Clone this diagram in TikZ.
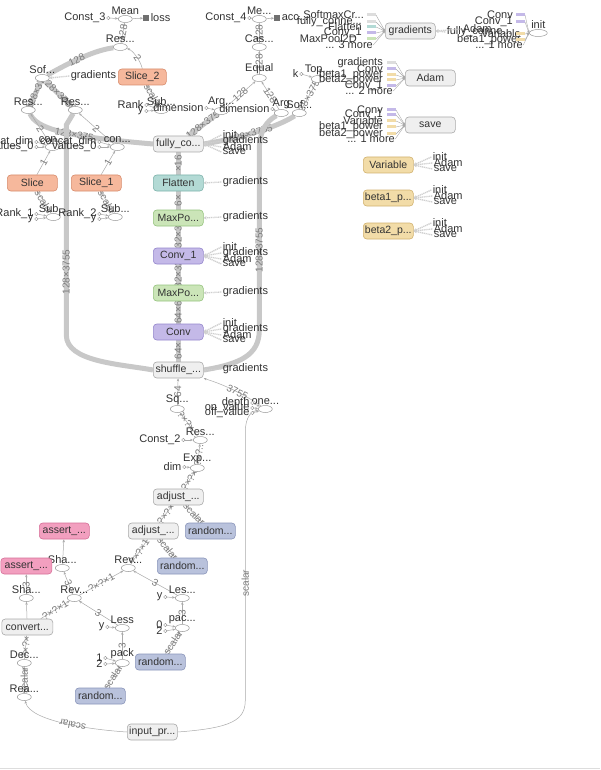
\documentclass[tikz,border=0pt]{standalone}
\usepackage{fontspec}
\setmainfont{Liberation Sans}
\usetikzlibrary{shapes.geometric,arrows.meta}
\pgfdeclarelayer{back}
\pgfdeclarelayer{bg}
\pgfsetlayers{back,bg,main}
\definecolor{txtc}{HTML}{333333}
\definecolor{elc}{HTML}{7A7A7A}
\definecolor{opc}{HTML}{999999}
\definecolor{thkc}{HTML}{C8C8C8}
\definecolor{thnc}{HTML}{AAAAAA}
\definecolor{stubc}{HTML}{CFCFCF}
\definecolor{boxf}{HTML}{EFEFEF}
\definecolor{boxd}{HTML}{AAAAAA}
\definecolor{orf}{HTML}{F6B89C}\definecolor{ord}{HTML}{D88C6C}
\definecolor{tealf}{HTML}{B3DAD5}\definecolor{teald}{HTML}{7DB3AB}
\definecolor{greenf}{HTML}{CBE5B8}\definecolor{greend}{HTML}{95C37E}
\definecolor{purpf}{HTML}{C4B9E8}\definecolor{purpd}{HTML}{9486CC}
\definecolor{tanf}{HTML}{F2DCA8}\definecolor{tand}{HTML}{D2B26F}
\definecolor{pinkf}{HTML}{F29FBF}\definecolor{pinkd}{HTML}{D66F98}
\definecolor{bluef}{HTML}{B9C2DC}\definecolor{blued}{HTML}{8A95BA}
\definecolor{icoc}{HTML}{707070}
\definecolor{barg}{HTML}{DDDDDD}
\tikzset{
 lbl/.style={font=\fontsize{11}{11}\selectfont, text=txtc, inner sep=0.3pt},
 op/.style={ellipse, draw=opc, fill=white, line width=0.5pt, minimum width=14pt, minimum height=7pt, inner sep=0pt},
 opl/.style={op, label={[lbl]above:#1}},
 cst/.style={circle, draw=opc, fill=white, line width=0.4pt, minimum size=3.4pt, inner sep=0pt},
 cl/.style={cst, label={[lbl, label distance=0.5pt]left:#1}},
 box/.style={rectangle, rounded corners=3.5pt, line width=0.6pt, minimum width=50pt, minimum height=16pt, inner sep=1pt, font=\fontsize{10.5}{10.5}\selectfont, text=txtc},
 gbox/.style={box, fill=boxf, draw=boxd},
 obox/.style={box, fill=orf, draw=ord},
 tbox/.style={box, fill=tealf, draw=teald},
 grbox/.style={box, fill=greenf, draw=greend},
 pbox/.style={box, fill=purpf, draw=purpd},
 tnbox/.style={box, fill=tanf, draw=tand},
 pkbox/.style={box, fill=pinkf, draw=pinkd},
 bbox/.style={box, fill=bluef, draw=blued},
 sico/.style={rectangle, fill=icoc, minimum size=6pt, inner sep=0pt},
 bar/.style={rectangle, minimum width=9pt, minimum height=3pt, inner sep=0pt},
 thk/.style={draw=thkc, line width=5pt},
 thn/.style={draw=thnc, line width=0.5pt, -{Stealth[length=3pt,width=2.4pt]}},
 inl/.style={draw=thnc, line width=0.4pt, -{Stealth[length=2.5pt,width=2pt]}},
 stub/.style={draw=stubc, line width=1.3pt, dash pattern=on 1.2pt off 0.7pt, -{Stealth[length=3pt,width=3.5pt]}},
 elab/.style={font=\fontsize{10}{10}\selectfont, text=elc, inner sep=0.5pt, sloped},
}
\newcommand{\myin}[7]{%
 \node[lbl,anchor=east] (#1t) at (#2,#3) {#4};
 \node[bar,fill=#6] (#1b) at (#5,#3) {};
 \draw[inl] (#1b.east) -- (#7.west);}
\newcommand{\mymore}[5]{%
 \node[lbl,anchor=east] (#1t) at (#2,#3) {#4};
 \draw[inl] (#1t.east) -- (#5.west);}
\newcommand{\mystub}[5]{%
 \node[lbl,anchor=west] (#1) at (#2,#3) {#4};
 \draw[stub] ([xshift=-1pt]#1.west) -- (#5.east);}
\begin{document}
\begin{tikzpicture}[x=1pt,y=-1pt]
\begin{pgfonlayer}{back}
\fill[white] (0,0) rectangle (600,770);
\draw[draw=barg, line width=0.6pt] (0,768) -- (600,768);
\end{pgfonlayer}
\useasboundingbox (0,0) rectangle (600,770);

% ---------- top left ----------
\node[opl=Mean] (mean) at (125,19) {};
\node[cl=Const\_3] (c3) at (108,18) {};
\node[sico] (lossi) at (146,18) {};
\node[lbl,anchor=west] (losst) at (150,18) {loss};
\node[opl=Res...] (res0) at (120,47) {};
\node[opl=Sof...] (sof) at (42,78) {};
\node[obox, minimum width=48pt] (slice2) at (142,77) {Slice\_2};
\node[opl=Sub...] (sub0) at (161,110) {};
\node[cl=Rank] (rk0) at (146,105) {};
\node[cl=y] (y0) at (146,111) {};
\node[cl=dimension] (dm1) at (206,108) {};
\node[opl=Arg...] (arg) at (221,111) {};
\node[cl=dimension] (dm2) at (272,109) {};
\node[opl=Arg] (argso) at (281,113) {};
\node[opl=Sof...] (sof2) at (299,113) {};
\node[cl=Const\_4] (c4) at (249,18) {};
\node[opl=Me...] (me) at (259,19) {};
\node[sico] (acci) at (277,18) {};
\node[lbl,anchor=west] (acct) at (281,18) {acc...};
\node[opl=Cas...] (cas) at (259,47) {};
\node[opl=Equal] (equal) at (259,78) {};
\node[opl=Top...] (top) at (318,79) {};
\node[cl=k] (kc) at (301,74) {};

\node[opl=Res...] (res1) at (28,110) {};
\node[opl=Res...] (res2) at (75,110) {};
\node[opl=con...] (con1) at (52,147) {};
\node[cl=concat\_dim] (cd1) at (36,142) {};
\node[cl=values\_0] (cv1) at (36,147) {};
\node[opl=con...] (con2) at (117,147) {};
\node[cl=concat\_dim] (cd2) at (99,142) {};
\node[cl=values\_0] (cv2) at (99,147) {};
\node[obox] (slice) at (32,183) {Slice};
\node[obox] (slice1) at (96,183) {Slice\_1};
\node[opl=Sub...] (sub1) at (53,217) {};
\node[cl=Rank\_1] (rk1) at (36,214) {};
\node[cl=y] (y1) at (36,219) {};
\node[opl=Sub...] (sub2) at (115,217) {};
\node[cl=Rank\_2] (rk2) at (99,214) {};
\node[cl=y] (y2) at (99,219) {};

% ---------- main chain ----------
\node[gbox] (fc) at (178,144) {fully\_co...};
\node[tbox] (flat) at (178,183) {Flatten};
\node[grbox] (mp1) at (178,218) {MaxPo...};
\node[pbox] (conv1) at (178,256) {Conv\_1};
\node[grbox] (mp2) at (178,293) {MaxPo...};
\node[pbox] (conv) at (178,332) {Conv};
\node[gbox] (shuf) at (178,370) {shuffle\_...};

% ---------- right top ----------
\node[gbox] (grad) at (410,31) {gradients};
\node[op, minimum width=18pt, label={[lbl]above:init}] (init) at (538,33) {};
\node[gbox] (adam) at (430,78) {Adam};
\node[gbox] (save) at (430,125) {save};
\node[tnbox] (var) at (388,165) {Variable};
\node[tnbox] (b1) at (388,198) {beta1\_p...};
\node[tnbox] (b2) at (388,231) {beta2\_p...};

% ---------- lower part ----------
\node[opl=Sq...] (sq) at (177,409) {};
\node[opl=one...] (one) at (265,409) {};
\node[cl=depth] (dpc) at (252,403) {};
\node[cl=on\_value] (onc) at (252,408) {};
\node[cl=off\_value] (offc) at (252,413) {};
\node[opl=Res...] (res3) at (200,440) {};
\node[cl=Const\_2] (k2) at (183,440) {};
\node[opl=Exp...] (exp) at (197,468) {};
\node[cl=dim] (dimc) at (184,467) {};
\node[gbox] (adj1) at (178,497) {adjust\_...};
\node[gbox] (adj2) at (153,531) {adjust\_...};
\node[bbox] (rnd1) at (210,531) {random...};
\node[pkbox] (as1) at (64,531) {assert\_...};
\node[opl=Sha...] (sha1) at (62,568) {};
\node[pkbox, minimum width=51pt] (as2) at (26,566) {assert\_...};
\node[opl=Sha...] (sha2) at (26,598) {};
\node[opl=Rev...] (rev) at (128,568) {};
\node[bbox] (rnd2) at (182,566) {random...};
\node[opl=Rev...] (rev2) at (74,598) {};
\node[opl=Les...] (les) at (182,598) {};
\node[cl=y] (yc1) at (165,597) {};
\node[opl=Less] (less) at (122,628) {};
\node[cl=y] (yc2) at (107,627) {};
\node[opl=pac...] (pac) at (182,628) {};
\node[cl=0] (z0) at (165,625) {};
\node[cl=2] (z2) at (165,631) {};
\node[gbox, minimum width=51pt] (cvt) at (27,627) {convert...};
\node[opl=Dec...] (dec) at (24,663) {};
\node[opl=pack] (pack) at (122,663) {};
\node[cl=1] (p1) at (105,658) {};
\node[cl=2] (p2) at (105,664) {};
\node[bbox] (rnd3) at (160,662) {random...};
\node[opl=Rea...] (rea) at (24,697) {};
\node[bbox] (rnd4) at (100,696) {random...};
\node[gbox] (inp) at (152,732) {input\_pr...};

% ---------- stubs ----------
\mystub{fsa}{222}{135}{init}{fc}
\mystub{fsb}{222}{141}{gradients}{fc}
\mystub{fsc}{222}{147}{Adam}{fc}
\mystub{fsd}{222}{152}{save}{fc}
\mystub{c1a}{222}{247}{init}{conv1}
\mystub{c1b}{222}{253}{gradients}{conv1}
\mystub{c1c}{222}{259}{Adam}{conv1}
\mystub{c1d}{222}{264}{save}{conv1}
\mystub{c0a}{222}{323}{init}{conv}
\mystub{c0b}{222}{329}{gradients}{conv}
\mystub{c0c}{222}{335}{Adam}{conv}
\mystub{c0d}{222}{340}{save}{conv}
\mystub{flg}{222}{182}{gradients}{flat}
\mystub{m1g}{222}{217}{gradients}{mp1}
\mystub{m2g}{222}{292}{gradients}{mp2}
\mystub{shg}{222}{369}{gradients}{shuf}
\mystub{sfg}{70}{76}{gradients}{sof}
\mystub{va}{432}{157}{init}{var}
\mystub{vb}{433}{163}{Adam}{var}
\mystub{vc}{433}{169}{save}{var}
\mystub{b1a}{432}{190}{init}{b1}
\mystub{b1b}{433}{196}{Adam}{b1}
\mystub{b1c}{433}{202}{save}{b1}
\mystub{b2a}{432}{223}{init}{b2}
\mystub{b2b}{433}{229}{Adam}{b2}
\mystub{b2c}{433}{235}{save}{b2}
\mystub{gout1}{446}{32}{fully\_conne...}{grad}
\mystub{gout2}{462}{29}{Adam}{grad}

% ---------- inputs to right-top boxes ----------
\myin{ga}{364}{15}{SoftmaxCr...}{371}{barg}{grad}
\myin{gb}{362}{22}{fully\_conne...}{371}{barg}{grad}
\myin{gc}{362}{27}{Flatten}{371}{tealf}{grad}
\myin{gd}{362}{33}{Conv\_1}{371}{purpf}{grad}
\myin{ge}{357}{39}{MaxPool2D}{371}{greenf}{grad}
\mymore{gf}{373}{45}{... 3 more}{grad}
\myin{ia}{513}{15}{Conv}{520}{purpf}{init}
\myin{ib}{513}{22}{Conv\_1}{520}{purpf}{init}
\myin{ic}{521}{34}{Variable}{520}{tanf}{init}
\myin{id}{521}{40}{beta1\_power}{520}{tanf}{init}
\mymore{ie}{523}{45}{... 1 more}{init}
\myin{aa}{383}{63}{gradients}{391}{barg}{adam}
\myin{ab}{383}{69}{Conv}{391}{purpf}{adam}
\myin{ac}{383}{75}{beta1\_power}{391}{tanf}{adam}
\myin{ad}{383}{80}{beta2\_power}{391}{tanf}{adam}
\myin{ae}{383}{86}{Conv\_1}{391}{purpf}{adam}
\mymore{af}{393}{91}{... 2 more}{adam}
\myin{sa}{383}{110}{Conv}{391}{purpf}{save}
\myin{sb}{383}{115}{Conv\_1}{391}{purpf}{save}
\myin{sc}{383}{121}{Variable}{391}{tanf}{save}
\myin{sd}{383}{127}{beta1\_power}{391}{tanf}{save}
\myin{se}{383}{134}{beta2\_power}{391}{tanf}{save}
\mymore{sf}{395}{139}{... 1 more}{save}

% ---------- edges ----------
\begin{pgfonlayer}{bg}
% thick
\draw[thk] (sof) .. controls (70,62) and (95,50) .. node[elab, pos=0.42] {128} (res0);
\draw[thk] (sof) -- node[elab] {128×37} (res1);
\draw[thk] (sof) -- node[elab] {128×3755} (res2);
\draw[thk] (res1) .. controls (36,128) and (60,136) .. node[elab, pos=0.62] {128×375} (fc.west);
\draw[thk] (res2) -- (66,125) -- (66,335) .. controls (66,362) and (120,364) .. (shuf.west);
\node[elab, rotate=90, sloped=false] (lb1) at (66,272) {128×3755};
\draw[thk] ([xshift=10pt]fc.north) -- node[elab] {128×375} (arg);
\draw[thk] (fc.east) .. controls (240,138) and (275,128) .. node[elab, pos=0.45] {128×3755} (sof2);
\draw[thk] (shuf.east) .. controls (240,364) and (259,355) .. (259,330) -- (259,150) .. controls (259,125) and (272,118) .. (argso);
\node[elab, rotate=90, sloped=false] (lb2) at (259,250) {128×3755};
\draw[thk] (shuf) -- node[elab] {64×} (conv);
\draw[thk] (conv) -- node[elab] {64×6} (mp2);
\draw[thk] (mp2) -- node[elab] {32×32} (conv1);
\draw[thk] (conv1) -- node[elab] {32×3} (mp1);
\draw[thk] (mp1) -- node[elab] {6×} (flat);
\draw[thk] (flat) -- node[elab] {×16} (fc);
% thin top
\draw[thn] (c3) -- (mean);
\draw[thn] (mean) -- (lossi);
\draw[thn] (res0) -- node[elab] {128} (mean);
\draw[thn] (slice2.north) .. controls (140,60) and (132,50) .. node[elab, pos=0.4] {2} (res0);
\draw[thn] (sub0) -- node[elab] {scalar} (slice2);
\draw[thn] (rk0) -- (sub0);
\draw[thn] (y0) -- (sub0);
\draw[thn] (dm1) -- (arg);
\draw[thn] (dm2) -- (argso);
\draw[thn] (arg) -- node[elab] {128} (equal);
\draw[thn] (argso) -- node[elab] {128} (equal);
\draw[thn] (equal) -- node[elab] {128} (cas);
\draw[thn] (cas) -- node[elab] {128} (me);
\draw[thn] (c4) -- (me);
\draw[thn] (me) -- (acci);
\draw[thn] (sof2) -- node[elab] {128×3755} (top);
\draw[thn] (kc) -- (top);
\draw[thn] (con1) -- node[elab] {2} (res1);
\draw[thn] (con2) -- node[elab] {2} (res2);
\draw[thn] (cd1) -- (con1);
\draw[thn] (cv1) -- (con1);
\draw[thn] (cd2) -- (con2);
\draw[thn] (cv2) -- (con2);
\draw[thn] (slice) -- node[elab] {1} (con1);
\draw[thn] (slice1) -- node[elab] {1} (con2);
\draw[thn] (sub1) -- node[elab] {scalar} (slice);
\draw[thn] (sub2) -- node[elab] {scalar} (slice1);
\draw[thn] (rk1) -- (sub1);
\draw[thn] (y1) -- (sub1);
\draw[thn] (rk2) -- (sub2);
\draw[thn] (y2) -- (sub2);
% thin lower
\draw[thn] (sq) -- node[elab] {64} (shuf);
\draw[thn] (one) .. controls (245,395) and (225,385) .. node[elab, pos=0.45] {3755} (shuf.south east);
\draw[thn] (dpc) -- (one);
\draw[thn] (onc) -- (one);
\draw[thn] (offc) -- (one);
\draw[thn] (res3) -- node[elab] {?×?×...} (sq);
\draw[thn] (k2) -- (res3);
\draw[thn] (exp) -- node[elab] {?×?...} (res3);
\draw[thn] (dimc) -- (exp);
\draw[thn] (adj1) -- node[elab] {?×?×} (exp);
\draw[thn] (adj2) -- node[elab] {?×?×} (adj1);
\draw[thn] (rnd1) -- node[elab] {scalar} (adj1);
\draw[thn] (rev) -- node[elab] {?×?×1} (adj2);
\draw[thn] (rnd2) -- node[elab] {scalar} (adj2);
\draw[thn] (sha1) -- (as1);
\draw[thn] (rev2) -- node[elab] {3} (sha1);
\draw[thn] (sha2) -- node[elab] {3} (as2);
\draw[thn] (cvt) -- (sha2);
\draw[thn] (rev2) -- node[elab] {?×?×1} (rev);
\draw[thn] (les) -- node[elab] {3} (rev);
\draw[thn] (yc1) -- (les);
\draw[thn] (pac) -- node[elab] {3} (les);
\draw[thn] (z0) -- (pac);
\draw[thn] (z2) -- (pac);
\draw[thn] (cvt) -- node[elab] {?×?×1} (rev2);
\draw[thn] (less) -- node[elab] {3} (rev2);
\draw[thn] (yc2) -- (less);
\draw[thn] (pack) -- node[elab] {3} (less);
\draw[thn] (p1) -- (pack);
\draw[thn] (p2) -- (pack);
\draw[thn] (rnd3) -- node[elab] {scalar} (pac);
\draw[thn] (rnd4) -- node[elab] {scalar} (pack);
\draw[thn] (dec) -- node[elab] {?×?×} (cvt);
\draw[thn] (rea) -- node[elab] {scalar} (dec);
\draw[thn] (inp.west) .. controls (95,730) and (30,722) .. node[elab, pos=0.45, allow upside down] {scalar} (rea);
\draw[thn] (inp.east) .. controls (232,728) and (245,720) .. (245,700) -- (245,432) .. controls (245,416) and (252,411) .. (one);
\node[elab, rotate=90, sloped=false] (lb3) at (245,583) {scalar};
\end{pgfonlayer}
\end{tikzpicture}
\end{document}
